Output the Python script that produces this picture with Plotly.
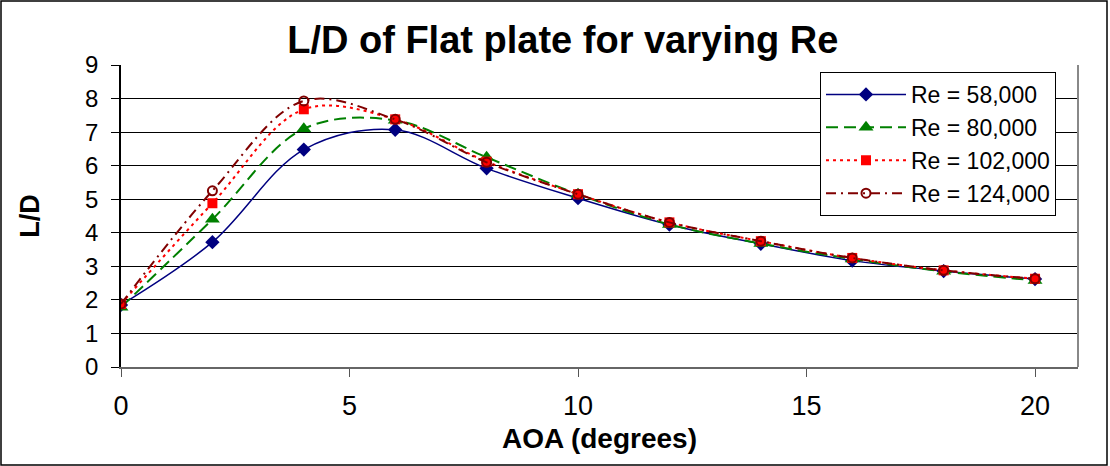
import plotly.graph_objects as go

# Angle of attack (degrees)
aoa = [0, 2, 4, 6, 8, 10, 12, 14, 16, 18, 20]

# Lift-to-drag ratio for each Reynolds number
ld_re58k = [1.85, 3.72, 6.48, 7.07, 5.92, 5.03, 4.24, 3.67, 3.17, 2.86, 2.62]
ld_re80k = [1.78, 4.40, 7.10, 7.35, 6.25, 5.15, 4.25, 3.68, 3.22, 2.85, 2.58]
ld_re102k = [1.88, 4.88, 7.68, 7.38, 6.12, 5.15, 4.31, 3.75, 3.25, 2.88, 2.63]
ld_re124k = [1.88, 5.25, 7.93, 7.38, 6.10, 5.15, 4.31, 3.75, 3.25, 2.88, 2.63]

series_names = ["Re = 58,000", "Re = 80,000", "Re = 102,000", "Re = 124,000"]
x_ticks = [0, 5, 10, 15, 20]
y_ticks = list(range(0, 10))

FONT = "Liberation Sans, Arial, sans-serif"

styles = [
    dict(color="#000080", dash="solid", width=1.5,
         marker=dict(symbol="diamond", size=11, color="#000080")),
    dict(color="#008000", dash="12px,6px", width=2,
         marker=dict(symbol="triangle-up", size=13, color="#008000")),
    dict(color="#FF0000", dash="3px,4px", width=2,
         marker=dict(symbol="square", size=10, color="#FF0000")),
    dict(color="#800000", dash="10px,5px,2px,5px", width=2,
         marker=dict(symbol="circle-open", size=9, color="#800000",
                     line=dict(width=2, color="#800000"))),
]

fig = go.Figure()
for name, ys, st in zip(series_names, [ld_re58k, ld_re80k, ld_re102k, ld_re124k], styles):
    fig.add_trace(go.Scatter(
        x=aoa, y=ys, name=name, mode="lines+markers",
        line=dict(color=st["color"], dash=st["dash"], width=st["width"],
                  shape="spline", smoothing=1.0),
        marker=st["marker"], legendgroup=name,
    ))

# plot area: left 121, right 1078, top 65, bottom 367 (pixels)
L, R, T, B = 121, 1078, 65, 367
W, H = 1110, 466
pw, ph = R - L, B - T

def px_x(p):
    return (p - L) / pw

def px_y(p):
    return (B - p) / ph

fig.update_layout(
    width=W, height=H,
    margin=dict(l=L, r=W - R, t=T, b=H - B, pad=0),
    paper_bgcolor="white", plot_bgcolor="white",
    font=dict(family=FONT, color="black"),
    title=dict(text="<b>L/D of Flat plate for varying Re</b>",
               font=dict(size=38, family=FONT, color="black"),
               x=0.507, xanchor="center", y=1 - 40 / H, yanchor="middle"),
    showlegend=True,
    legend=dict(x=px_x(820), y=px_y(72), xanchor="left", yanchor="top",
                bgcolor="white", bordercolor="black", borderwidth=1,
                font=dict(size=23, family=FONT, color="black"),
                itemwidth=80, tracegroupgap=8, traceorder="normal"),
    xaxis=dict(range=[0, 20.94], tickvals=x_ticks, ticks="outside", ticklen=8,
               tickcolor="#555555", showgrid=False, zeroline=False,
               showline=True, linecolor="#666666", linewidth=2,
               tickfont=dict(size=27, family=FONT), ticklabelstandoff=6,
               title=dict(text="<b>AOA (degrees)</b>", font=dict(size=28, family=FONT),
                          standoff=8)),
    yaxis=dict(range=[0, 9], tickvals=y_ticks, ticks="outside", ticklen=8,
               tickcolor="black", showgrid=True, gridcolor="black", gridwidth=1,
               zeroline=False, showline=True, linecolor="black", linewidth=1.5,
               tickfont=dict(size=24, family=FONT), ticklabelstandoff=8,
               title=dict(text="<b>L/D</b>", font=dict(size=27, family=FONT),
                          standoff=38)),
)

# right edge of the plot area
fig.add_shape(type="line", xref="paper", yref="paper", x0=1, x1=1, y0=0, y1=1,
              line=dict(color="#888888", width=2))
# outer chart border
fig.add_shape(type="rect", xref="paper", yref="paper",
              x0=px_x(1), x1=px_x(1107), y0=px_y(465), y1=px_y(1),
              line=dict(color="black", width=1.5), fillcolor="rgba(0,0,0,0)")

fig.write_html("out.html")
